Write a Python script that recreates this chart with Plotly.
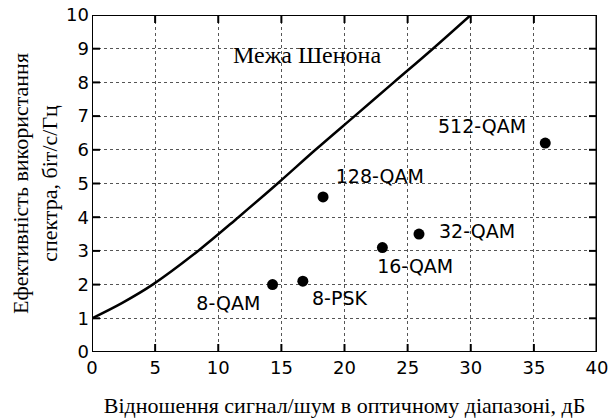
import plotly.graph_objects as go

# Shannon limit curve
shannon_x = [0, 2.4, 4.8, 8.4, 11.6, 14.7, 17.7, 20.8, 23.9, 27.0, 30]
shannon_y = [1, 1.46, 2, 3, 4, 5, 6, 7, 8, 9, 10]

# Modulation formats
mod_names = ["8-QAM", "8-PSK", "16-QAM", "32-QAM", "128-QAM", "512-QAM"]
mod_x = [14.3, 16.7, 23.0, 25.9, 18.3, 35.9]
mod_y = [2.0, 2.1, 3.1, 3.5, 4.6, 6.2]

# Label positions
label_x = [10.8, 19.6, 25.6, 30.5, 22.8, 30.9]
label_y = [1.4, 1.55, 2.5, 3.53, 5.15, 6.65]

shannon_label = "Межа Шенона"
shannon_label_pos = (17.0, 8.8)

x_ticks = [0, 5, 10, 15, 20, 25, 30, 35, 40]
y_ticks = [0, 1, 2, 3, 4, 5, 6, 7, 8, 9, 10]

X_RANGE = [0, 40]
Y_RANGE = [0, 10]
W, H = 611, 420
M = dict(l=92, r=14, t=15, b=68)
TICK_PX = 8

# pixel -> data conversions for tick length
plot_w = W - M["l"] - M["r"]
plot_h = H - M["t"] - M["b"]
tick_dx = TICK_PX * (X_RANGE[1] - X_RANGE[0]) / plot_w
tick_dy = TICK_PX * (Y_RANGE[1] - Y_RANGE[0]) / plot_h

fig = go.Figure()

# Tick marks (inside, on all four sides)
tx, ty = [], []
for v in x_ticks[1:-1]:
    tx += [v, v, None, v, v, None]
    ty += [Y_RANGE[0], Y_RANGE[0] + tick_dy, None, Y_RANGE[1], Y_RANGE[1] - tick_dy, None]
for v in y_ticks[1:-1]:
    tx += [X_RANGE[0], X_RANGE[0] + tick_dx, None, X_RANGE[1], X_RANGE[1] - tick_dx, None]
    ty += [v, v, None, v, v, None]
fig.add_trace(go.Scatter(x=tx, y=ty, mode="lines", line=dict(color="black", width=2),
                         showlegend=False, hoverinfo="skip", cliponaxis=False))

# Frame
fig.add_trace(go.Scatter(x=[X_RANGE[0], X_RANGE[1], X_RANGE[1], X_RANGE[0], X_RANGE[0]],
                         y=[Y_RANGE[0], Y_RANGE[0], Y_RANGE[1], Y_RANGE[1], Y_RANGE[0]],
                         mode="lines", line=dict(color="black", width=2),
                         showlegend=False, hoverinfo="skip", cliponaxis=False))
# thicker right edge
fig.add_trace(go.Scatter(x=[X_RANGE[1], X_RANGE[1]], y=[Y_RANGE[0], Y_RANGE[1]],
                         mode="lines", line=dict(color="black", width=3),
                         showlegend=False, hoverinfo="skip", cliponaxis=False))

fig.add_trace(go.Scatter(x=shannon_x, y=shannon_y, mode="lines",
                         line=dict(color="black", width=2.5, shape="spline", smoothing=1.0),
                         showlegend=False, hoverinfo="skip"))
fig.add_trace(go.Scatter(x=mod_x, y=mod_y, mode="markers",
                         marker=dict(color="black", size=11),
                         showlegend=False))
fig.add_trace(go.Scatter(x=label_x, y=label_y, mode="text", text=mod_names,
                         textfont=dict(family="DejaVu Sans", size=19, color="black"),
                         showlegend=False, hoverinfo="skip"))

fig.add_annotation(x=shannon_label_pos[0], y=shannon_label_pos[1], text=shannon_label,
                   showarrow=False,
                   font=dict(family="Liberation Serif", size=24, color="black"))

axis_common = dict(
    showline=False, ticks="", automargin=False,
    showgrid=True, gridcolor="#555555", gridwidth=1, griddash="dot",
    zeroline=False,
    tickfont=dict(family="DejaVu Sans", size=18, color="black"),
)

fig.update_xaxes(range=X_RANGE, tickvals=x_ticks, **axis_common, ticklabelstandoff=3,
                 title=dict(text="Відношення сигнал/шум в оптичному діапазоні, дБ",
                            font=dict(family="Liberation Serif", size=22, color="black"),
                            standoff=20))
fig.update_yaxes(range=Y_RANGE, tickvals=y_ticks, **axis_common, ticklabelstandoff=2,
                 title=dict(text="Ефективність використання<br>спектра, біт/с/Гц",
                            font=dict(family="Liberation Serif", size=22, color="black"),
                            standoff=2))

fig.update_layout(
    width=W, height=H,
    margin=M,
    plot_bgcolor="white", paper_bgcolor="white",
    template="simple_white",
)

fig.write_html("out.html")
